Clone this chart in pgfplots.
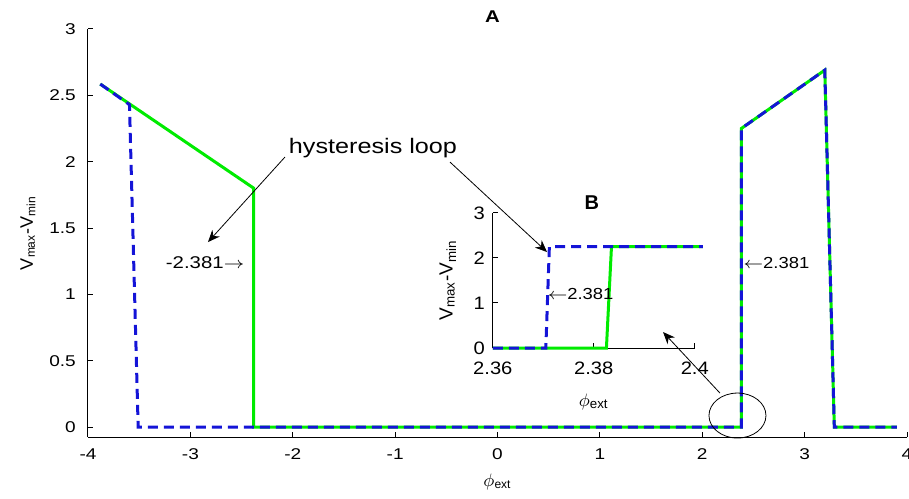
\documentclass[border=0pt]{standalone}
\usepackage{fontspec}
\setmainfont{Liberation Sans}
\usepackage{pgfplots}
\pgfplotsset{compat=1.18}
\usetikzlibrary{arrows.meta}
\definecolor{mgreen}{RGB}{0,235,0}
\definecolor{mblue}{RGB}{20,20,215}
\begin{document}
\begin{tikzpicture}
\pgfplotsset{
 mstyle/.style={
  scale only axis,
  axis x line*=bottom, axis y line*=left,
  tick align=inside,
  major tick length=2.5pt,
  /pgf/number format/assume math mode=true,
  axis line style={line width=0.5pt},
  every tick/.style={black, line width=0.5pt},
  clip=false,
 },
 gline/.style={mgreen, line width=1.5pt},
 bline/.style={mblue, line width=1.5pt, dash pattern=on 5pt off 3pt},
}
\begin{axis}[mstyle, width=409.5pt, height=204pt,
  xmin=-4, xmax=4, ymin=-0.075, ymax=3,
  xtick={-4,-3,-2,-1,0,1,2,3,4},
  ytick={0,0.5,1,1.5,2,2.5,3},
  yticklabels={0,0.5,1,1.5,2,2.5,3},
  tick label style={font=\fontsize{7.8}{9}\selectfont, xscale=1.22},
  xticklabel style={yshift=-2.5pt},
  yticklabel style={xshift=-1.5pt},
  title={A},
  title style={font=\fontsize{8.5}{10}\selectfont\bfseries, xscale=1.2, at={(axis description cs:0.494,1)}, anchor=center},
  xlabel={\(\phi\)\textsubscript{ext}},
  ylabel={V\textsubscript{max}-V\textsubscript{min}},
  label style={font=\fontsize{9}{10}\selectfont},
  xlabel style={at={(axis description cs:0.5,-0.110)}, anchor=center},
  ylabel style={at={(axis description cs:-0.0733,0.5)}, anchor=center},
]
\addplot[gline] coordinates {(-3.88,2.585) (-2.381,1.80) (-2.381,0) (2.381,0) (2.381,2.25) (3.197,2.69) (3.29,0) (3.90,0)};
\addplot[bline] coordinates {(-3.88,2.585) (-3.595,2.43) (-3.51,0) (2.381,0) (2.381,2.25) (3.197,2.69) (3.29,0) (3.90,0)};
\node[font=\fontsize{10.5}{12}\selectfont, xscale=1.2] at (axis cs:-1.216,2.103) {hysteresis loop};
\draw[-{Stealth[length=6pt,width=5pt]}, line width=0.4pt] (axis cs:-2.076,2.035) -- (axis cs:-2.828,1.394);
\draw[-{Stealth[length=6pt,width=5pt]}, line width=0.4pt] (axis cs:-0.464,1.997) -- (axis cs:0.484,1.319);
\draw[-{Stealth[length=6pt,width=5pt]}, line width=0.4pt] (axis cs:2.173,0.256) -- (axis cs:1.617,0.716);
\draw[line width=0.4pt] (axis cs:2.344,0.0867) ellipse [x radius=14.25pt, y radius=11.25pt];
\node[anchor=east, font=\fontsize{8.5}{10}\selectfont, xscale=1.2, inner sep=0pt] at (axis cs:-2.47,1.236) {-2.381\(\rightarrow\)};
\node[anchor=west, font=\fontsize{8}{10}\selectfont, xscale=1.15, inner sep=0pt] at (axis cs:2.40,1.236) {\(\leftarrow\)2.381};
\end{axis}
\begin{axis}[mstyle, at={(202.4pt,44.5pt)}, anchor=south west,
  width=101pt, height=67.5pt,
  xmin=2.36, xmax=2.4, ymin=0, ymax=3,
  xtick={2.36,2.38,2.4}, xticklabels={2.36,2.38,2.4}, scaled x ticks=false,
  ytick={0,1,2,3}, yticklabels={0,1,2,3},
  tick label style={font=\fontsize{9}{10}\selectfont, xscale=1.12},
  xticklabel style={yshift=-3.5pt},
  title={B},
  title style={font=\fontsize{10}{11}\selectfont\bfseries, at={(axis description cs:0.49,1)}, anchor=center, yshift=-1pt},
  xlabel={\(\phi\)\textsubscript{ext}},
  ylabel={V\textsubscript{max}-V\textsubscript{min}},
  label style={font=\fontsize{9.5}{11}\selectfont},
  xlabel style={at={(axis description cs:0.5,-0.40)}, anchor=center},
  ylabel style={at={(axis description cs:-0.223,0.5)}, anchor=center},
]
\addplot[gline] coordinates {(2.36,0) (2.3825,0) (2.3835,2.25) (2.4016,2.25)};
\addplot[bline] coordinates {(2.36,0) (2.3705,0) (2.3712,2.25) (2.4016,2.25)};
\node[anchor=west, font=\fontsize{8}{10}\selectfont, xscale=1.15, inner sep=0pt] at (axis cs:2.3708,1.2) {\(\leftarrow\)2.381};
\end{axis}
\pgfresetboundingbox
\useasboundingbox (-44pt,-30.5pt) rectangle (410.5pt,218.5pt);
\end{tikzpicture}
\end{document}
